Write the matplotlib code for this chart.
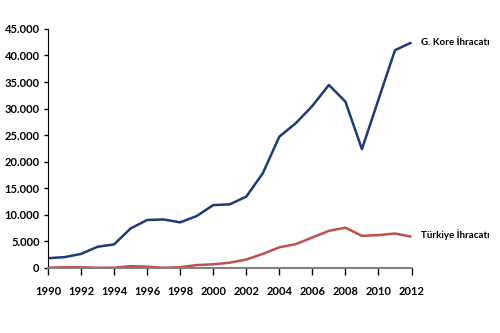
import numpy as np
import matplotlib.pyplot as plt
from matplotlib.ticker import FuncFormatter

years = list(range(1990, 2013))
kore = [1800, 2000, 2600, 3950, 4400, 7400, 9000, 9100, 8550, 9750, 11800,
        11950, 13400, 17800, 24700, 27250, 30500, 34450, 31300, 22350, 31700,
        41000, 42450]
turkiye = [0, 100, 100, 0, 0, 300, 200, 0, 100, 500, 650,
           950, 1550, 2600, 3850, 4450, 5700, 6950, 7550, 6000, 6150,
           6450, 5850]

plt.rcParams['font.family'] = ['Lato', 'DejaVu Sans']

fig = plt.figure(figsize=(5, 3.33), dpi=100)
ax = fig.add_axes([0.096, 0.196, 0.727, 0.717])

ax.plot(years, kore, color='#1f3b73', lw=1.8, solid_capstyle='butt', clip_on=False)
ax.plot(years, turkiye, color='#c0504d', lw=1.8, solid_capstyle='butt', clip_on=False)

ax.set_xlim(1990, 2012)
ax.set_ylim(0, 45000)
ax.set_xticks(range(1990, 2013, 2))
ax.set_yticks(range(0, 45001, 5000))
ax.yaxis.set_major_formatter(FuncFormatter(lambda v, p: f'{int(v):,}'.replace(',', '.')))

for s in ['top', 'right']:
    ax.spines[s].set_visible(False)
ax.spines['left'].set_color('black')
ax.spines['bottom'].set_color('#808080')
ax.spines['bottom'].set_linewidth(1.5)
ax.tick_params(axis='y', length=3, width=1, labelsize=8, pad=3)
ax.tick_params(axis='x', length=5, width=1, color='black', labelsize=8, pad=8)
for lab in ax.get_xticklabels() + ax.get_yticklabels():
    lab.set_fontweight('bold')

# series names at the line ends
ax.text(2012.6, kore[-1], 'G. Kore İhracatı', fontsize=7, fontweight='bold',
        va='center', ha='left')
ax.text(2012.6, turkiye[-1] + 400, 'Türkiye İhracatı', fontsize=7,
        fontweight='bold', va='center', ha='left')

fig.savefig('out.png', dpi=100)
